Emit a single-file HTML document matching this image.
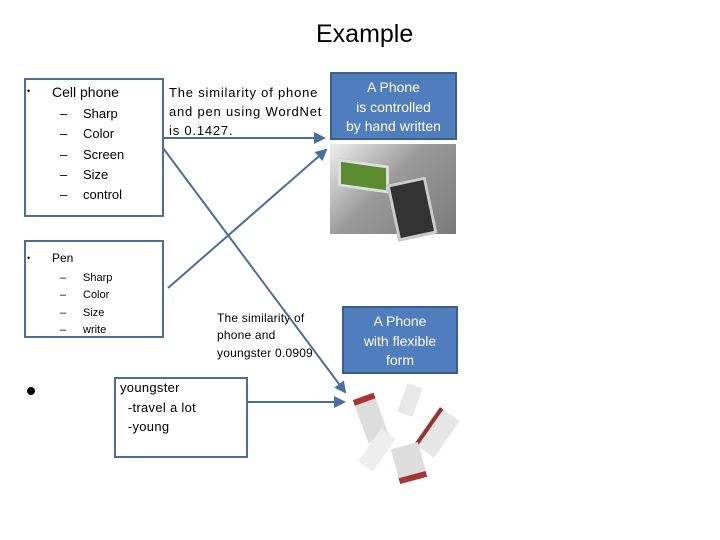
<!DOCTYPE html>
<html><head><style>
body{margin:0;width:720px;height:540px;background:#fff;position:relative;overflow:hidden;font-family:"Liberation Sans",sans-serif}
.a{position:absolute}
.box{position:absolute;border:2.5px solid #4a6ea0;box-sizing:border-box}
.blue{position:absolute;background:#4f7dbd;border:2px solid #3b5f91;box-sizing:border-box;color:#fff;text-align:center;font-size:14px;line-height:19.5px}
.t{position:absolute;font-size:13px;color:#000;white-space:nowrap}
</style></head><body>
<div class="t" style="left:316px;top:20px;font-size:25px">Example</div>
<div class="box" style="left:24px;top:78px;width:140px;height:139px"></div>
<div class="box" style="left:24px;top:240px;width:140px;height:98px"></div>
<div class="box" style="left:114px;top:377px;width:134px;height:81px"></div>
<div class="t" style="left:27px;top:86px;font-size:9px">•</div>
<div class="t" style="left:52px;top:84px;font-size:14px">Cell phone</div>
<div class="t" style="left:60px;top:104px;line-height:20.3px">–<br>–<br>–<br>–<br>–</div>
<div class="t" style="left:83px;top:104px;line-height:20.3px">Sharp<br>Color<br>Screen<br>Size<br>control</div>
<div class="t" style="left:27px;top:253px;font-size:9px">•</div>
<div class="t" style="left:52px;top:251px;font-size:12px">Pen</div>
<div class="t" style="left:60px;top:270px;font-size:11px;line-height:17.3px">–<br>–<br>–<br>–</div>
<div class="t" style="left:83px;top:270px;font-size:11px;line-height:17.3px">Sharp<br>Color<br>Size<br>write</div>
<div class="a" style="left:27px;top:387px;width:8px;height:8px;border-radius:50%;background:#000"></div>
<div class="t" style="left:120px;top:378px;line-height:19.5px;letter-spacing:0.3px">youngster<br>&nbsp;&nbsp;-travel a lot<br>&nbsp;&nbsp;-young</div>
<div class="t" style="left:169px;top:83px;line-height:19px;letter-spacing:0.8px">The similarity of phone<br>and pen using WordNet<br>is 0.1427.</div>
<div class="t" style="left:217px;top:310px;font-size:12px;line-height:17.3px;letter-spacing:0.2px">The similarity of<br>phone and<br>youngster 0.0909</div>
<div class="blue" style="left:330px;top:72px;width:127px;height:68px;padding-top:4px">A Phone<br>is controlled<br>by hand written</div>
<div class="blue" style="left:342px;top:306px;width:116px;height:68px;padding-top:4px">A Phone<br>with flexible<br>form</div>
<div class="a" style="left:330px;top:144px;width:126px;height:90px;background:linear-gradient(135deg,#eeeeee,#9a9a9a 45%,#7a7a7a)"></div>
<div class="a" style="left:338px;top:162px;width:45px;height:22px;background:#5b8a2f;border:3px solid #ddd;transform:skewY(8deg)"></div>
<div class="a" style="left:392px;top:180px;width:34px;height:52px;background:#333;border:3px solid #ccc;transform:rotate(-12deg)"></div>
<div class="a" style="left:360px;top:395px;width:22px;height:40px;background:#ddd;border-top:6px solid #a33;transform:rotate(-20deg)"></div>
<div class="a" style="left:402px;top:385px;width:16px;height:30px;background:#e8e8e8;transform:rotate(20deg)"></div>
<div class="a" style="left:425px;top:410px;width:20px;height:45px;background:#e6e6e6;border-left:4px solid #933;transform:rotate(35deg)"></div>
<div class="a" style="left:368px;top:430px;width:18px;height:40px;background:#eee;transform:rotate(35deg)"></div>
<div class="a" style="left:395px;top:445px;width:28px;height:30px;background:#ddd;border-bottom:6px solid #a33;transform:rotate(-15deg)"></div>
<svg class="a" style="left:0;top:0" width="720" height="540">
<defs><marker id="m" markerWidth="6" markerHeight="6" refX="5" refY="3" orient="auto"><path d="M0,0L6,3L0,6z" fill="#4a6ea0"/></marker></defs>
<g stroke="#4a6ea0" stroke-width="2" fill="none" marker-end="url(#m)">
<line x1="163" y1="138" x2="324" y2="138"/>
<line x1="168" y1="288" x2="326" y2="150"/>
<line x1="163" y1="148" x2="345" y2="392"/>
<line x1="247" y1="402" x2="344" y2="402"/>
</g></svg>
</body></html>
